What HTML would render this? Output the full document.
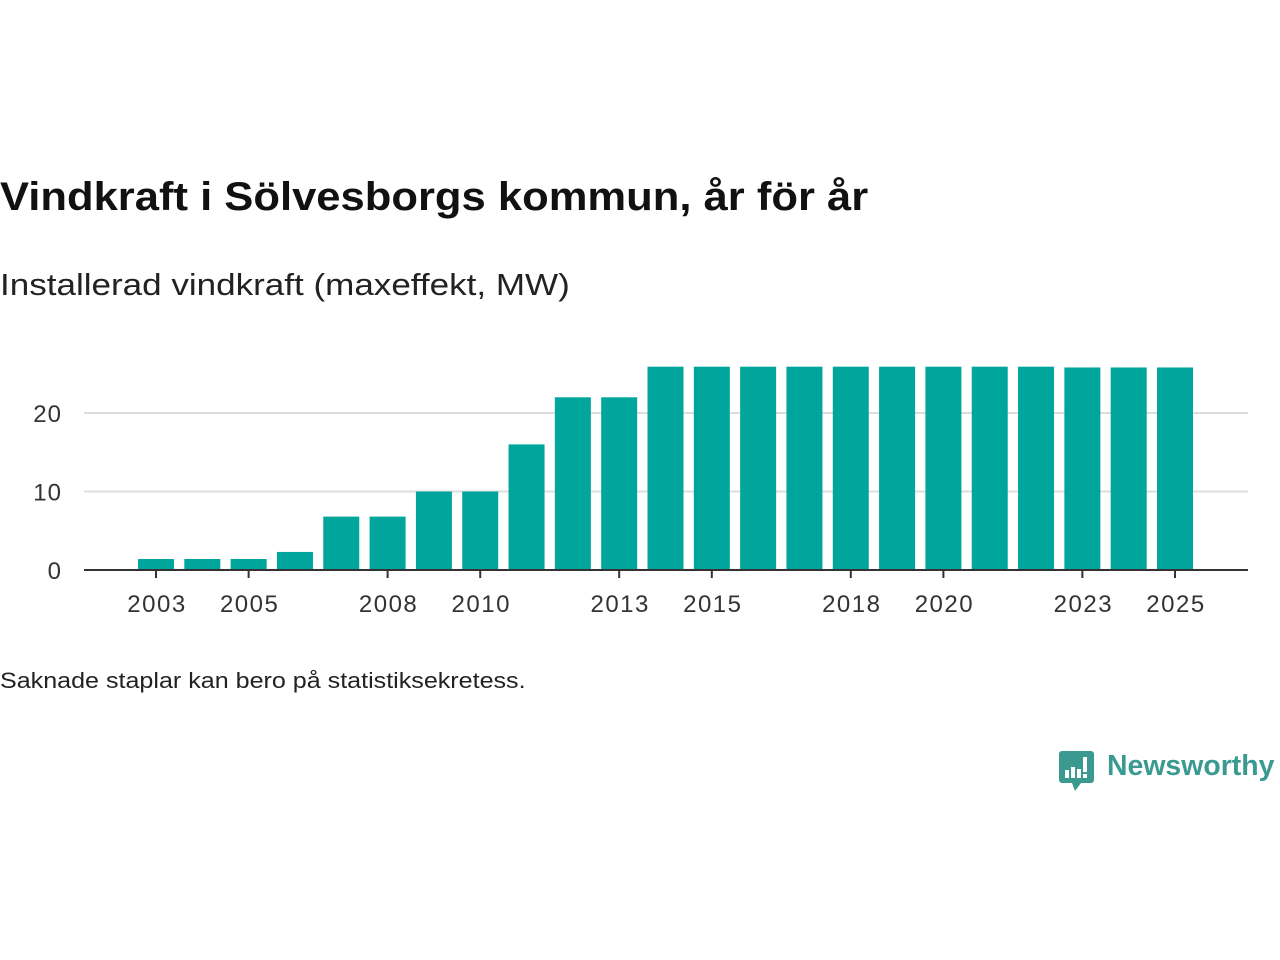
<!DOCTYPE html>
<html><head><meta charset="utf-8"><style>
body{margin:0;width:1280px;height:960px;background:#fff;font-family:"Liberation Sans",sans-serif;position:relative;overflow:hidden}
.t{position:absolute;left:0;white-space:nowrap;transform-origin:0 0}
</style></head><body>
<div class="t" style="top:175px;font-size:40px;font-weight:bold;color:#111;transform:scaleX(1.089)">Vindkraft i Sölvesborgs kommun, år för år</div>
<div class="t" style="top:267px;font-size:31px;color:#222;transform:scaleX(1.13)">Installerad vindkraft (maxeffekt, MW)</div>
<svg id="chart" width="1280" height="960" style="position:absolute;left:0;top:0" font-family="Liberation Sans, sans-serif"></svg>
<div class="t" style="top:668px;font-size:22px;color:#222;transform:scaleX(1.14)">Saknade staplar kan bero på statistiksekretess.</div>
<div style="position:absolute;left:1059px;top:750px;width:220px;height:45px">
<svg width="36" height="44" style="position:absolute;left:0;top:0"><path d="M3 1h29a3 3 0 0 1 3 3v26a3 3 0 0 1-3 3H22l-6 8-3-8H3a3 3 0 0 1-3-3V4a3 3 0 0 1 3-3z" fill="#3a9a90"/><rect x="6" y="20" width="4" height="8" fill="#fff"/><rect x="12" y="17" width="4" height="11" fill="#fff"/><rect x="18" y="19" width="4" height="9" fill="#fff"/><rect x="24" y="7" width="4" height="15" fill="#fff"/><rect x="24" y="24" width="4" height="4" fill="#fff"/></svg>
<div style="position:absolute;left:48px;top:0;font-size:29px;color:#3a9a90;font-weight:bold;transform-origin:0 0;transform:scaleX(0.98)">Newsworthy</div></div>
<script>
const years=[2003,2004,2005,2006,2007,2008,2009,2010,2011,2012,2013,2014,2015,2016,2017,2018,2019,2020,2021,2022,2023,2024,2025];
const values=[1.4,1.4,1.4,2.3,6.8,6.8,10,10,16,22,22,25.9,25.9,25.9,25.9,25.9,25.9,25.9,25.9,25.9,25.8,25.8,25.8];
const yTicks=[0,10,20];
const xLabels=[2003,2005,2008,2010,2013,2015,2018,2020,2023,2025];
const svg=document.getElementById('chart');const NS='http://www.w3.org/2000/svg';
const x=y=>156+(y-2003)*(1175-156)/22;const yS=v=>570-v*7.85;
function mk(t,a){const e=document.createElementNS(NS,t);for(const k in a)e.setAttribute(k,a[k]);svg.appendChild(e);return e;}
yTicks.forEach(v=>{if(v>0){const g=mk('line',{x1:84,x2:1248,y1:yS(v),y2:yS(v),stroke:'#ddd','stroke-width':2});

}
const t=mk('text',{x:62,y:yS(v)+9,'text-anchor':'end','font-size':24,'letter-spacing':1,fill:'#333'});t.textContent=v;

});
years.forEach((yr,i)=>{const b=mk('rect',{x:x(yr)-18,y:yS(values[i]),width:36,height:570-yS(values[i]),fill:'#00a59b'});

});
const ax=mk('line',{x1:84,x2:1248,y1:570,y2:570,stroke:'#333','stroke-width':2});


xLabels.forEach(yr=>{const tk=mk('line',{x1:x(yr),x2:x(yr),y1:570,y2:578,stroke:'#333','stroke-width':2});


const t=mk('text',{x:x(yr)+1,y:612,'text-anchor':'middle','font-size':24,'letter-spacing':1.5,fill:'#333'});t.textContent=yr;

});
</script>
</body></html>
